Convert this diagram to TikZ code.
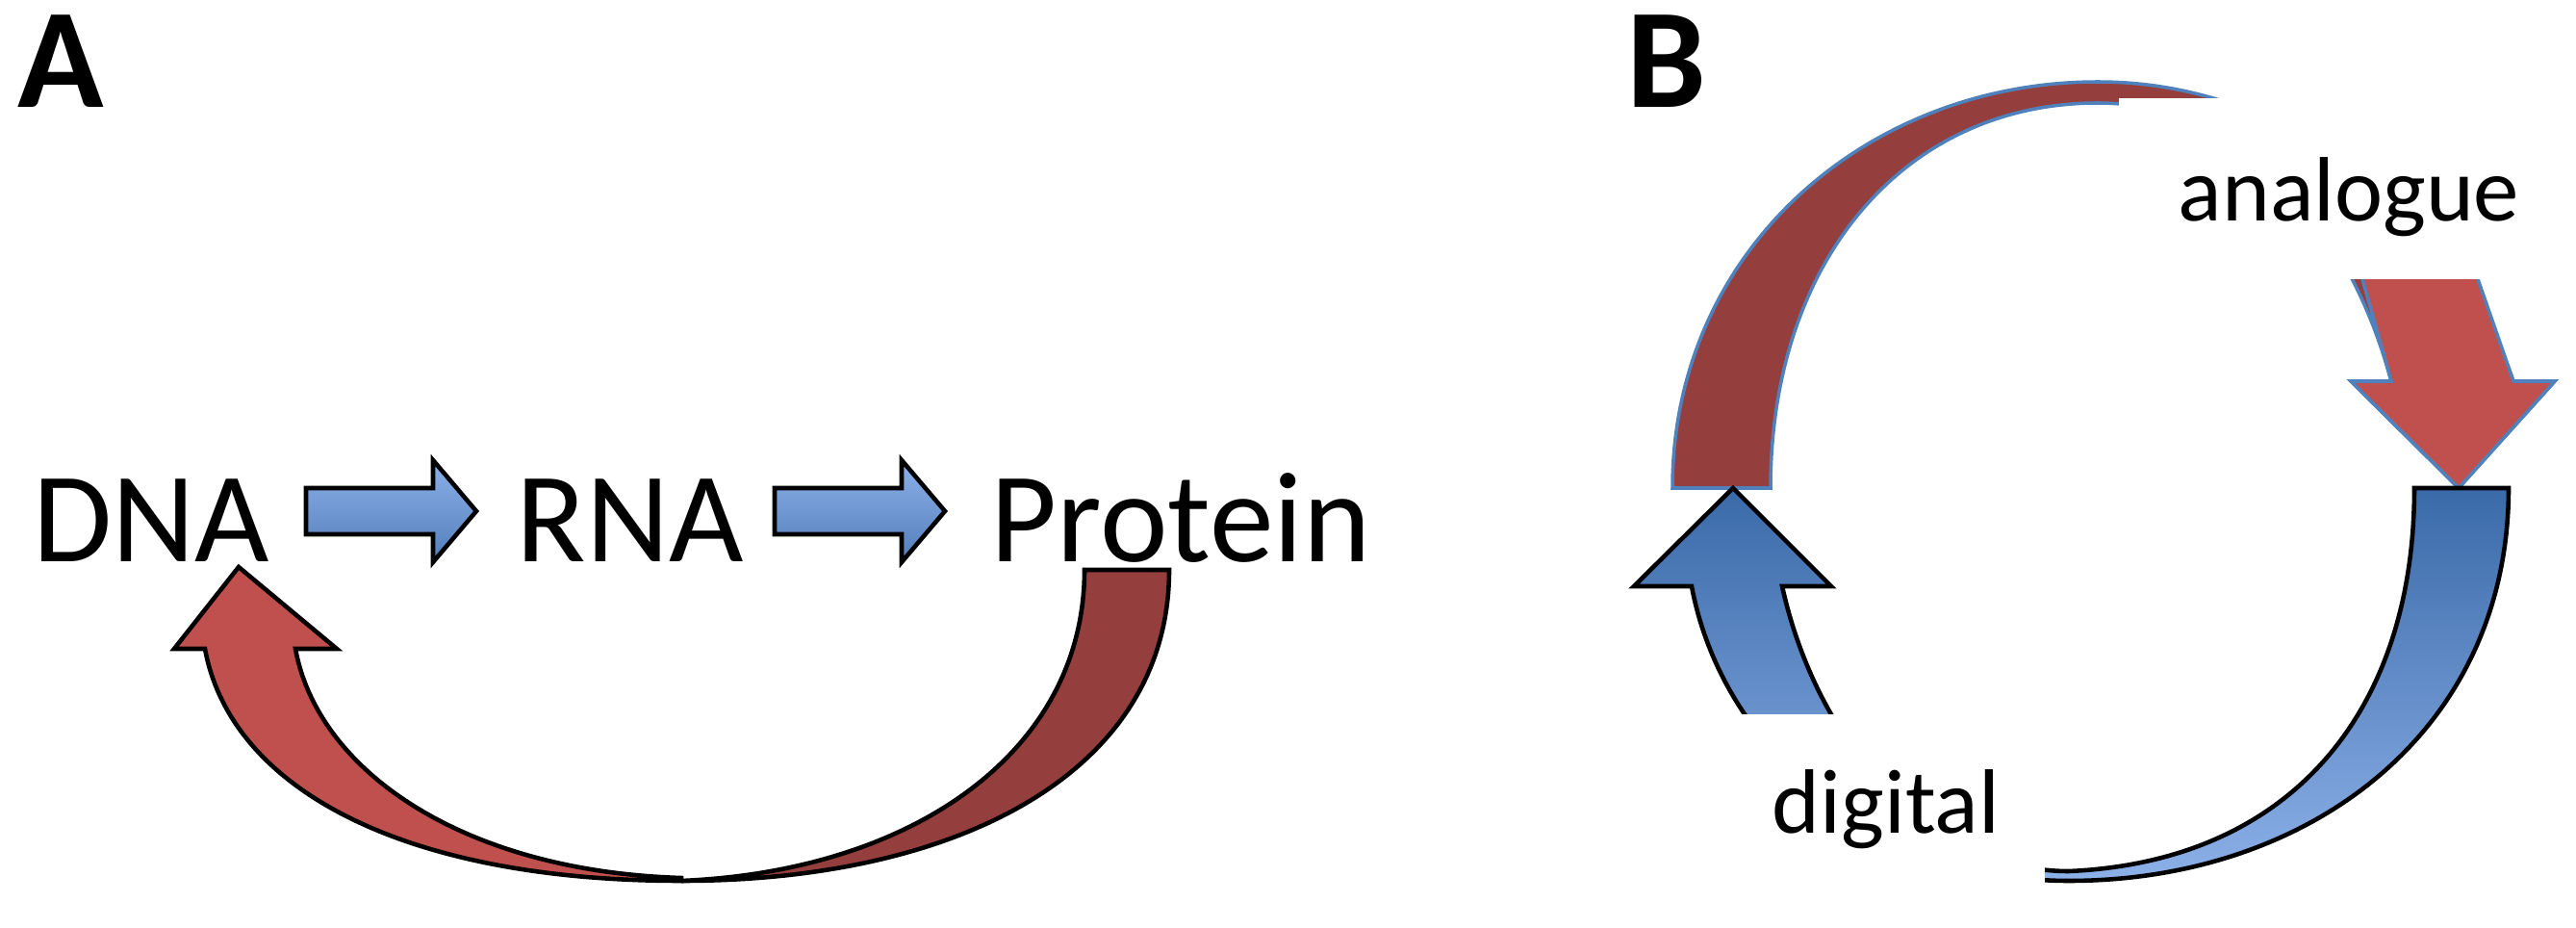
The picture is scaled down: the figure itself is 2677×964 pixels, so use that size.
\documentclass[tikz,border=0pt]{standalone}
\usepackage{fontspec}
\setmainfont{Carlito}
\definecolor{rdark}{HTML}{943F3D}
\definecolor{rlight}{HTML}{C0504D}
\definecolor{bdark}{HTML}{3A6AA8}
\definecolor{blight}{HTML}{8CB0E8}
\definecolor{bedge}{HTML}{4F81BD}
\begin{document}
\begin{tikzpicture}[x=0.01cm,y=-0.01cm,
  lbl/.style={font=\fontsize{38}{40}\selectfont,anchor=base,inner sep=0},
  slbl/.style={font=\fontsize{27}{30}\selectfont,anchor=base,inner sep=0},
  panel/.style={font=\fontsize{42}{44}\selectfont\bfseries,anchor=base west,inner sep=0},
  blk/.style={draw=black,line width=1.3pt,line join=miter},
  small/.style={blk,top color=blight,bottom color=bdark!70!blight}]
\useasboundingbox (0,0) rectangle (2677,964);
\node[panel] (A) at (18,112) {A};
\node[panel] (B) at (1690,112) {B};
% panel A
\node[lbl] (dna) at (157,584) {DNA};
\node[lbl] (rna) at (655,584) {RNA};
\node[lbl] (prot) at (1227,584) {Protein};
\draw[small] (318,507) -- (450,507) -- (450,478) -- (495,531) -- (450,584) -- (450,555) -- (318,555) -- cycle;
\draw[small] (805,507) -- (937,507) -- (937,478) -- (982,531) -- (937,584) -- (937,555) -- (805,555) -- cycle;
\draw[blk,fill=rdark] (1127,592) -- (1215,592) .. controls (1215,800) and (1000,915) .. (708,915)
  .. controls (950,905) and (1127,780) .. (1127,592) -- cycle;
\draw[blk,fill=rlight] (708,915) .. controls (420,915) and (240,820) .. (213,674) -- (181,674) -- (248,589)
  -- (350,674) -- (307,674) .. controls (330,800) and (480,905) .. (708,912) -- cycle;
% panel B
\draw[draw=bedge,line width=1pt,fill=rdark]
  (1738,507) .. controls (1738,260) and (1940,85) .. (2180,85) .. controls (2400,85) and (2560,250) .. (2612,396)
  -- (2655,396) -- (2555,507) -- (2443,396) -- (2485,396)
  .. controls (2440,230) and (2330,107) .. (2180,107) .. controls (1980,107) and (1840,270) .. (1840,507) -- cycle;
\fill[rlight] (2455,290) -- (2575,290) -- (2612,396) -- (2655,396) -- (2555,507) -- (2443,396) -- (2485,396) -- cycle;
\draw[draw=bedge,line width=1pt] (2575,290) -- (2612,396) -- (2655,396) -- (2555,507) -- (2443,396) -- (2485,396) -- (2455,290);
\draw[blk,top color=bdark,bottom color=blight]
  (2607,507) .. controls (2607,760) and (2400,915) .. (2150,915) .. controls (1950,915) and (1790,780) .. (1758,609)
  -- (1698,609) -- (1801,507) -- (1903,609) -- (1852,609)
  .. controls (1890,780) and (2010,905) .. (2150,905) .. controls (2380,895) and (2509,740) .. (2509,507) -- cycle;
\fill[white] (2202,102) rectangle (2677,290);
\node[slbl] (ant) at (2441,230) {analogue};
\fill[white] (1775,742) rectangle (2125,930);
\node[slbl] (dgt) at (1960,866) {digital};
\end{tikzpicture}
\end{document}
